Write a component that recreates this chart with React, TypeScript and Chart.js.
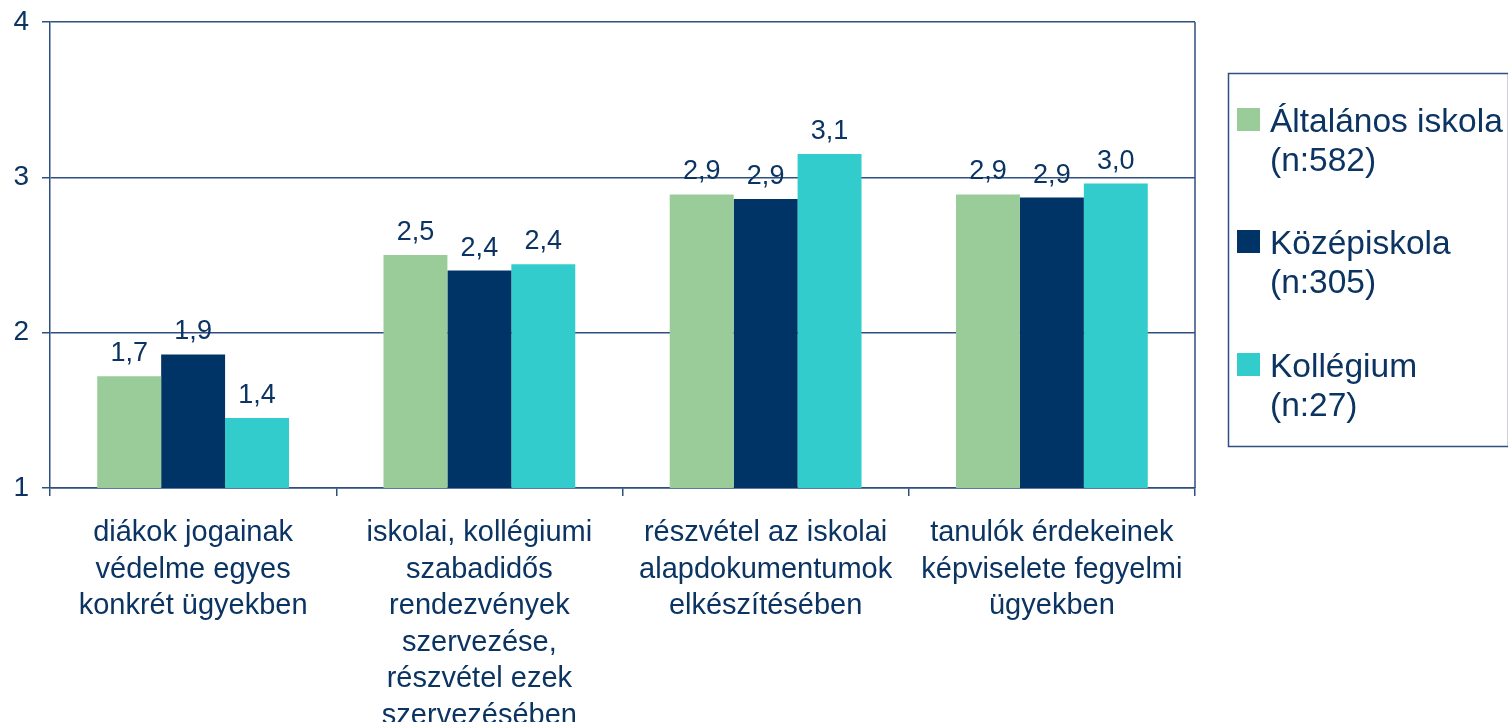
import React, { useEffect, useRef } from "react";
import { Chart, registerables } from "chart.js";

Chart.register(...registerables);

const categories: string[][] = [
  ["diákok jogainak", "védelme egyes", "konkrét ügyekben"],
  ["iskolai, kollégiumi", "szabadidős", "rendezvények", "szervezése,", "részvétel ezek", "szervezésében"],
  ["részvétel az iskolai", "alapdokumentumok", "elkészítésében"],
  ["tanulók érdekeinek", "képviselete fegyelmi", "ügyekben"],
];

const altalanosValues = [1.72, 2.5, 2.89, 2.89];
const kozepValues = [1.86, 2.4, 2.86, 2.87];
const kollegiumValues = [1.45, 2.44, 3.15, 2.96];

const altalanosLabels = ["1,7", "2,5", "2,9", "2,9"];
const kozepLabels = ["1,9", "2,4", "2,9", "2,9"];
const kollegiumLabels = ["1,4", "2,4", "3,1", "3,0"];

const seriesNames: string[][] = [
  ["Általános iskola", "(n:582)"],
  ["Középiskola", "(n:305)"],
  ["Kollégium", "(n:27)"],
];

const yTicks = [1, 2, 3, 4];

const TEXT = "#0B3463";
const LINE = "#2F4F7F";
const FONT = "'Liberation Sans', Arial, sans-serif";
const COLORS = ["#99CC99", "#003366", "#33CCCC"];

export default function App() {
  const ref = useRef<HTMLCanvasElement | null>(null);

  useEffect(() => {
    if (!ref.current) return;
    const valueLabels = [altalanosLabels, kozepLabels, kollegiumLabels];

    const customPlugin = {
      id: "custom",
      afterDatasetsDraw(chart: any) {
        const ctx = chart.ctx;
        ctx.save();
        ctx.font = `27px ${FONT}`;
        ctx.fillStyle = TEXT;
        ctx.textAlign = "center";
        ctx.textBaseline = "alphabetic";
        chart.data.datasets.forEach((_ds: any, di: number) => {
          const meta = chart.getDatasetMeta(di);
          meta.data.forEach((bar: any, i: number) => {
            ctx.fillText(valueLabels[di][i], bar.x, bar.y - 15);
          });
        });
        ctx.restore();
      },
      afterDraw(chart: any) {
        const ctx = chart.ctx;
        const a = chart.chartArea;
        ctx.save();
        ctx.strokeStyle = LINE;
        ctx.lineWidth = 1.5;
        ctx.beginPath();
        ctx.moveTo(a.right, a.top);
        ctx.lineTo(a.right, a.bottom);
        ctx.stroke();

        // legend
        const bx = 1228.5;
        const by = 73.5;
        const bw = 280;
        const bh = 373;
        ctx.strokeStyle = LINE;
        ctx.lineWidth = 1.5;
        ctx.strokeRect(bx, by, bw, bh);
        ctx.font = `33.5px ${FONT}`;
        ctx.textAlign = "left";
        ctx.textBaseline = "alphabetic";
        const baselines = [132, 254, 377];
        seriesNames.forEach((lines, i) => {
          const b = baselines[i];
          ctx.fillStyle = COLORS[i];
          ctx.fillRect(1237, b - 24, 23, 23);
          ctx.fillStyle = TEXT;
          lines.forEach((t, j) => ctx.fillText(t, 1270, b + j * 39));
        });
        ctx.restore();
      },
    };

    const chart = new Chart(ref.current, {
      type: "bar",
      data: {
        labels: categories,
        datasets: [
          { label: seriesNames[0].join(" "), data: altalanosValues, backgroundColor: COLORS[0], borderWidth: 0 },
          { label: seriesNames[1].join(" "), data: kozepValues, backgroundColor: COLORS[1], borderWidth: 0 },
          { label: seriesNames[2].join(" "), data: kollegiumValues, backgroundColor: COLORS[2], borderWidth: 0 },
        ],
      },
      options: {
        responsive: false,
        animation: false,
        layout: { padding: { top: 22, right: 313, left: 0, bottom: 0 } },
        datasets: { bar: { categoryPercentage: 0.67, barPercentage: 1.0 } },
        plugins: { legend: { display: false }, tooltip: { enabled: false } },
        scales: {
          x: {
            type: "category",
            offset: true,
            grid: { offset: true, drawOnChartArea: false, drawTicks: true, tickLength: 8, color: LINE, lineWidth: 1.5 },
            border: { color: LINE, width: 1.5 },
            ticks: {
              color: TEXT,
              font: { family: FONT, size: 29, lineHeight: 1.26 },
              padding: 19,
              maxRotation: 0,
              minRotation: 0,
              autoSkip: false,
            },
            afterFit: (s: any) => {
              s.height = 234;
              s.paddingLeft = 0;
              s.paddingRight = 0;
            },
          },
          y: {
            min: 1,
            max: 4,
            afterBuildTicks: (s: any) => {
              s.ticks = yTicks.map((v) => ({ value: v }));
            },
            grid: { color: LINE, lineWidth: 1.5, tickLength: 8, drawTicks: true },
            border: { color: LINE, width: 1.5 },
            ticks: {
              color: TEXT,
              font: { family: FONT, size: 28 },
              padding: 13,
              callback: (v: any) => String(v),
            },
            afterFit: (s: any) => {
              s.width = 50;
              s.paddingTop = 0;
              s.paddingBottom = 0;
            },
          },
        },
      },
      plugins: [customPlugin],
    } as any);
    return () => chart.destroy();
  }, []);

  return (
    <div style={{ position: "fixed", left: 0, top: 0, width: 1508, height: 722, background: "#fff" }}>
      <canvas ref={ref} width={1508} height={722} style={{ display: "block" }} />
    </div>
  );
}
